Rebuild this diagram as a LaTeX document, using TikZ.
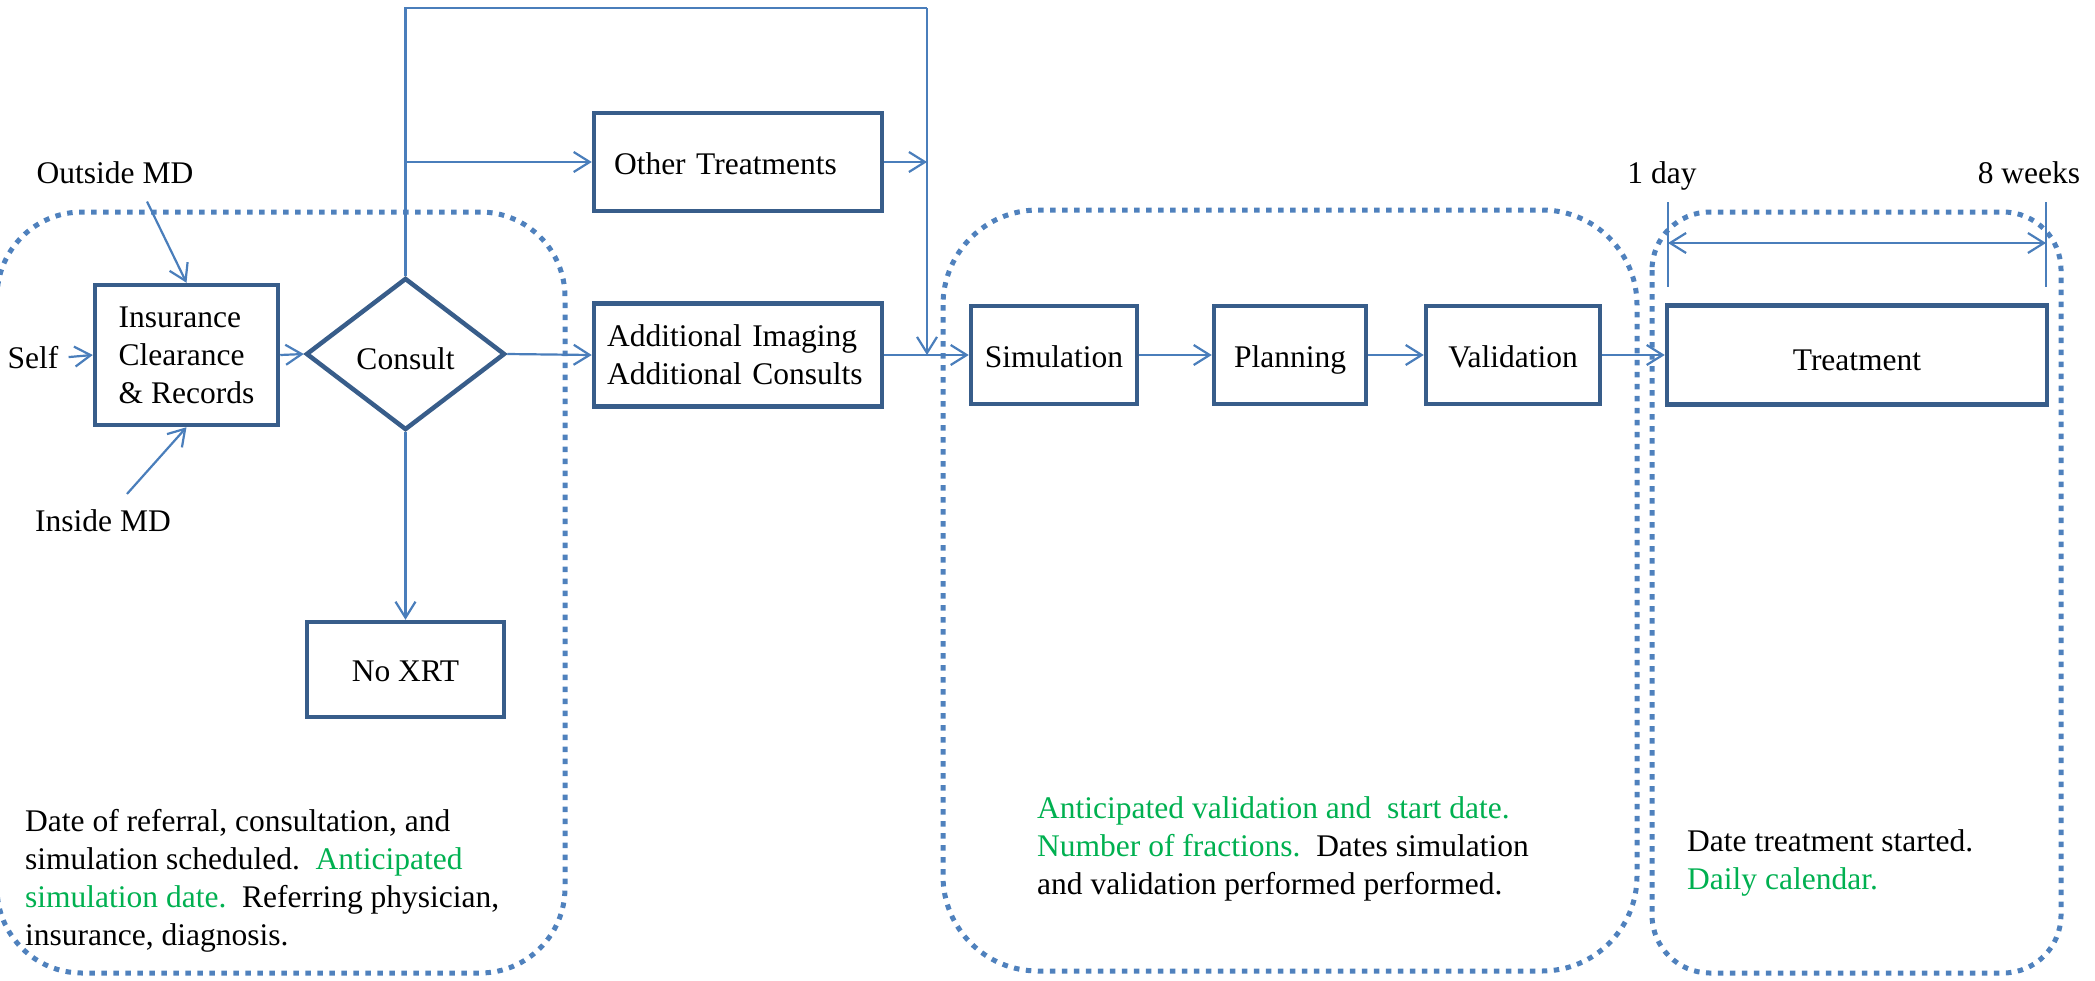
\documentclass[tikz,border=0pt]{standalone}
\usepackage{fontspec}
\setmainfont{Liberation Serif}
\usetikzlibrary{shapes.geometric,arrows.meta,calc}
\definecolor{boxblue}{HTML}{385D8A}
\definecolor{linkblue}{HTML}{4A7EBB}
\definecolor{dotblue}{HTML}{4F81BD}
\definecolor{okgreen}{HTML}{00B050}
\begin{document}
\begin{tikzpicture}[x=1pt,y=-1pt,
  font=\fontsize{31.5}{38}\selectfont,
  pbox/.style={draw=boxblue, line width=4.5pt, inner sep=0pt, align=center},
  onel/.style={text height=24pt, text depth=0pt},
  conn/.style={draw=linkblue, line width=2.2pt},
  arr/.style={conn, -{Straight Barb[length=16pt,width=20pt]}},
  dblarr/.style={conn, {Straight Barb[length=16pt,width=20pt]}-{Straight Barb[length=16pt,width=20pt]}},
  dotbox/.style={draw=dotblue, line width=5pt, dash pattern=on 5.5pt off 6.5pt},
  lbl/.style={inner sep=0pt, anchor=base},
  note/.style={inner sep=0pt, align=left, anchor=base west}]
\useasboundingbox (0,0) rectangle (2095,980);
\clip (0,0) rectangle (2095,980);

% dotted phase frames
\draw[dotbox, rounded corners=85pt] (-3,212) rectangle (565,973);
\draw[dotbox, rounded corners=95pt] (943,210) rectangle (1637,971);
\draw[dotbox, rounded corners=58pt] (1652,212) rectangle (2061,973);

% process boxes
\node[pbox, minimum width=183pt, minimum height=140pt, align=left] (ins) at (186.5,355) {Insurance\\Clearance\\\& Records};
\node[pbox, onel, text height=30pt, shape=diamond, minimum width=199pt, minimum height=152pt] (consult) at (405.5,354) {Consult};
\node[pbox, onel, minimum width=288pt, minimum height=98pt, text width=248pt, align=left] (oth) at (738,162) {Other Treatments};
\node[pbox, minimum width=288pt, minimum height=103pt, text width=262pt, align=left] (add) at (738,355) {Additional Imaging\\Additional Consults};
\node[pbox, onel, minimum width=166pt, minimum height=98pt] (sim) at (1054,355) {Simulation};
\node[pbox, onel, minimum width=152pt, minimum height=98pt] (plan) at (1290,355) {Planning};
\node[pbox, onel, minimum width=174pt, minimum height=98pt] (val) at (1513,355) {Validation};
\node[pbox, onel, text height=30pt, minimum width=380pt, minimum height=99pt] (treat) at (1857,355) {Treatment};
\node[pbox, onel, minimum width=197pt, minimum height=95pt] (noxrt) at (405.5,669.5) {No XRT};

% labels
\node[lbl] (outside) at (115,183) {Outside MD};
\node[lbl] (self) at (33,368) {Self};
\node[lbl] (inside) at (103,531) {Inside MD};
\node[lbl] (day) at (1662,183) {1 day};
\node[lbl] (weeks) at (2029,183) {8 weeks};

% notes (anchored at the baseline of their last line)
\node[note] (n1) at (25,945) {Date of referral, consultation, and\\simulation scheduled.\ \ \textcolor{okgreen}{Anticipated}\\\textcolor{okgreen}{simulation date.}\ \ Referring physician,\\insurance, diagnosis.};
\node[note] (n2) at (1037,894) {\textcolor{okgreen}{Anticipated validation and\ \ start date.}\\\textcolor{okgreen}{Number of fractions.}\ \ Dates simulation\\and validation performed performed.};
\node[note] (n3) at (1687,889) {Date treatment started.\\\textcolor{okgreen}{Daily calendar.}};

% connectors
\draw[arr] ([xshift=10pt]self.east) -- (ins.west);
\draw[arr] ([xshift=32pt,yshift=-18pt]outside.south) -- (ins.north);
\draw[arr] ([xshift=24pt,yshift=15pt]inside.north) -- (ins.south);
\draw[arr] (ins.east) -- (consult.west);
\draw[arr] (consult.east) -- (add.west);
\draw[arr] (consult.south) -- (noxrt.north);

\coordinate (tl) at (405.5,8);
\coordinate (tr) at (927,8);
\draw[conn] (consult.north) -- (tl) -- (tr);
\draw[arr] (tr) -- (tr |- add.east);
\draw[arr] (consult.north |- oth.west) -- (oth.west);
\draw[arr] (oth.east) -- (oth.east -| tr);

\draw[arr] (add.east) -- (sim.west);
\draw[arr] (sim.east) -- (plan.west);
\draw[arr] (plan.east) -- (val.west);
\draw[arr] (val.east) -- (treat.west);

% duration markers
\coordinate (d1t) at (1668,202);
\coordinate (d1b) at (1668,287);
\coordinate (d2t) at (2046,202);
\coordinate (d2b) at (2046,287);
\draw[conn] (d1t) -- (d1b);
\draw[conn] (d2t) -- (d2b);
\draw[dblarr] (d1t |- 0,243) -- (d2t |- 0,243);
\end{tikzpicture}
\end{document}
